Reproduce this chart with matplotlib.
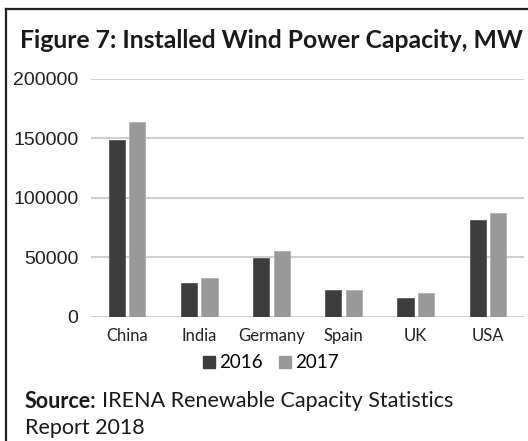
import matplotlib
matplotlib.use("Agg")
import matplotlib.pyplot as plt
import numpy as np
from matplotlib.patches import Patch
from matplotlib.lines import Line2D

countries = ["China", "India", "Germany", "Spain", "UK", "USA"]
cap_2016 = [148500, 28200, 49700, 22600, 15800, 81400]
cap_2017 = [164100, 32800, 55700, 22800, 20100, 87300]
series_labels = ["2016", "2017"]
yticks = [0, 50000, 100000, 150000, 200000]

W, H = 528, 441
DPI = 100
fig = plt.figure(figsize=(W / DPI, H / DPI), dpi=DPI)
fig.patch.set_facecolor("white")

def fx(px):
    return px / W

def fy(py):
    return 1 - py / H

CAL = ["Lato", "DejaVu Sans"]
ARI = ["Liberation Sans", "DejaVu Sans"]

# axes region: x 91..524, y 79..316.7
ax = fig.add_axes([fx(91), fy(316.7), fx(524 - 91), (316.7 - 79) / H])
x = np.arange(len(countries))
bw = 0.222
off = 0.142
c16, c17 = "#3d3d3d", "#999999"
ax.bar(x - off, cap_2016, width=bw, color=c16, edgecolor="#5a5a5a", linewidth=0.6, zorder=3)
ax.bar(x + off, cap_2017, width=bw, color=c17, edgecolor="#b0b0b0", linewidth=0.6, zorder=3)
ax.set_xlim(-0.5, len(countries) - 0.5)
ax.set_ylim(0, 200000)
ax.set_yticks(yticks)
ax.set_yticklabels([str(v) for v in yticks], fontsize=14, family=ARI, color="#222222")
ax.set_xticks(x)
ax.set_xticklabels(countries, fontsize=12, family=CAL, color="#222222")
ax.tick_params(axis="both", length=0)
ax.tick_params(axis="y", pad=9)
ax.tick_params(axis="x", pad=8)
for s in ax.spines.values():
    s.set_visible(False)
ax.grid(axis="y", color="#d0d0d0", linewidth=1.5, zorder=0)
ax.set_axisbelow(True)

# border lines
fig.add_artist(Line2D([fx(6), fx(6)], [fy(9), 0], color="#222222", linewidth=1.6))
fig.add_artist(Line2D([fx(6), 1], [fy(9), fy(9)], color="#222222", linewidth=1.6))

# title
fig.text(fx(20), fy(41), "Figure 7: Installed Wind Power Capacity, MW", fontsize=17.8,
         fontweight="bold", family=CAL, ha="left", va="center", color="#1a1a1a")

# legend
handles = [Patch(facecolor=c16, edgecolor=c16), Patch(facecolor=c17, edgecolor=c17)]
fig.legend(handles, series_labels, loc="center", bbox_to_anchor=(fx(271), fy(363)), ncol=2,
           frameon=False, prop={"family": CAL, "size": 13.5}, handlelength=0.64, handleheight=0.64,
           handletextpad=0.22, columnspacing=0.85, borderaxespad=0, borderpad=0)

# source text
SRC = 15.5
t1 = fig.text(fx(25), fy(401), "Source:", fontsize=SRC, fontweight="bold", family=CAL,
              ha="left", va="center", color="#1a1a1a")
fig.canvas.draw()
bb = t1.get_window_extent(renderer=fig.canvas.get_renderer())
fig.text(bb.x1 / W + fx(5), fy(401), "IRENA Renewable Capacity Statistics", fontsize=SRC,
         family=CAL, ha="left", va="center", color="#1a1a1a")
fig.text(fx(25), fy(428), "Report 2018", fontsize=SRC, family=CAL, ha="left", va="center",
         color="#1a1a1a")

fig.savefig("out.png", dpi=DPI, facecolor="white")
